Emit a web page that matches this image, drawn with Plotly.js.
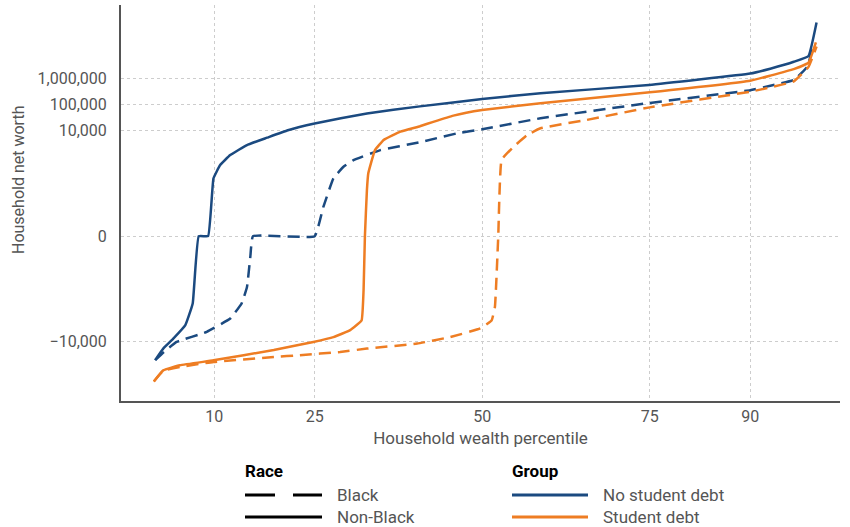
<!DOCTYPE html>
<html>
<head>
<meta charset="utf-8">
<script src="https://cdn.plot.ly/plotly-3.0.1.min.js"></script>
<style>html,body{margin:0;padding:0;background:#fff;}#chart{width:850px;height:527px;}</style>
</head>
<body>
<div id="chart"></div>
<script>
// Household wealth percentile (x) and household net worth in dollars (y)
const noDebtNonBlackPct = [1.2, 2.4, 3.9, 5.7, 6.8, 7.7, 9.1, 9.9, 10.9, 12.4, 14.9, 17.9, 21, 25, 32.8, 40.7, 50, 58.7, 74.9, 90, 93, 96.5, 98.7, 99.9];
const noDebtNonBlackVal = [-51000, -18600, -7800, -2400, -360, 0, 0, 155, 500, 1200, 2900, 5500, 10500, 19000, 46000, 85000, 162000, 270000, 550000, 1500000, 2300000, 4200000, 7000000, 130000000];

const noDebtBlackPct = [1.2, 2.5, 4.4, 8.9, 12.4, 14.1, 14.9, 15.4, 15.8, 25, 26.3, 27.8, 29.3, 30.8, 34.8, 40.5, 46.2, 50, 58.7, 75, 90, 93, 96.5, 98.5, 99.5];
const noDebtBlackVal = [-51000, -25000, -10400, -4300, -1340, -360, -84, -5, 0, 0, 12, 155, 430, 770, 1850, 3600, 8000, 11500, 30000, 115000, 350000, 520000, 850000, 2700000, 21000000];

const debtNonBlackPct = [1.0, 2.4, 4.9, 9.9, 18.9, 24.8, 27.8, 30.3, 32.0, 32.3, 32.5, 32.8, 33.0, 34.0, 35.3, 37.8, 40.7, 42.7, 45.7, 50, 58.7, 75, 90, 93, 96.5, 98.7, 99.8];
const debtNonBlackVal = [-330000, -125000, -80000, -52000, -21000, -10400, -6800, -3700, -1600, -112, 0, 55, 240, 1850, 4500, 9300, 15000, 22000, 38000, 62000, 112000, 290000, 800000, 1250000, 2200000, 3900000, 23000000];

const debtBlackPct = [1.0, 2.4, 4.9, 9.9, 18.9, 22.8, 28.8, 32.8, 40.3, 45.2, 49.7, 51.4, 51.9, 52.4, 52.9, 54.7, 56.7, 58.7, 65.6, 75, 90, 93, 96.5, 98.7, 99.9];
const debtBlackVal = [-330000, -130000, -93000, -60000, -39000, -33000, -25000, -18600, -12000, -6800, -3200, -1600, -490, 0, 800, 2500, 6900, 12500, 26000, 78000, 306000, 450000, 760000, 2700000, 16000000];

const xTickVals = [10, 25, 50, 75, 90];
const yTickVals = [-10000, 0, 10000, 100000, 1000000];
const yTickText = ["\u221210,000", "0", "10,000", "100,000", "1,000,000"];

const raceLabels = ["Black", "Non-Black"];
const groupLabels = ["No student debt", "Student debt"];

const BLUE = "#1b4a80";
const ORANGE = "#ee7d23";
const DASH = "12px,7px";

// symmetric log transform used by the chart's y axis
function symlog(v) { return Math.sign(v) * Math.log10(1 + Math.abs(v)); }

function series(px, vals, color, dash) {
  return {
    x: px, y: vals.map(symlog), type: "scatter", mode: "lines",
    line: {color: color, width: 2.5, dash: dash, shape: "spline", smoothing: 0.3},
    showlegend: false, hoverinfo: "skip"
  };
}

const traces = [
  series(noDebtBlackPct, noDebtBlackVal, BLUE, DASH),
  series(debtBlackPct, debtBlackVal, ORANGE, DASH),
  series(debtNonBlackPct, debtNonBlackVal, ORANGE, "solid"),
  series(noDebtNonBlackPct, noDebtNonBlackVal, BLUE, "solid")
];

const L = 121, T = 5, W = 719, H = 396;
const px = x => (x - L) / W;
const py = y => (T + H - y) / H;

const FONT = "Roboto, 'Noto Sans', sans-serif";
const GREY = "#555";
const ROW1 = 495, ROW2 = 517;

const shapes = [
  {type: "line", xref: "paper", yref: "paper", x0: px(245), x1: px(322), y0: py(ROW1), y1: py(ROW1), line: {color: "#000", width: 3, dash: "30px,18px"}},
  {type: "line", xref: "paper", yref: "paper", x0: px(245), x1: px(322), y0: py(ROW2), y1: py(ROW2), line: {color: "#000", width: 3}},
  {type: "line", xref: "paper", yref: "paper", x0: px(512), x1: px(588), y0: py(ROW1), y1: py(ROW1), line: {color: BLUE, width: 3}},
  {type: "line", xref: "paper", yref: "paper", x0: px(512), x1: px(588), y0: py(ROW2), y1: py(ROW2), line: {color: ORANGE, width: 3}}
];

const ann = (x, y, text, opts) => Object.assign({
  xref: "paper", yref: "paper", x: px(x), y: py(y), text: text, showarrow: false,
  xanchor: "left", yanchor: "middle", font: {family: FONT, size: 17, color: GREY}
}, opts || {});

const annotations = [
  ann(243, 471, "<b>Race</b>", {font: {family: FONT, size: 17, color: "#000"}}),
  ann(510, 471, "<b>Group</b>", {font: {family: FONT, size: 17, color: "#000"}}),
  ann(335, ROW1, raceLabels[0]),
  ann(335, ROW2, raceLabels[1]),
  ann(601, ROW1, groupLabels[0]),
  ann(601, ROW2, groupLabels[1]),
  ann(18, 180, "Household net worth", {textangle: -90, xanchor: "center", font: {family: FONT, size: 16, color: GREY}})
];

const layout = {
  width: 850, height: 527,
  margin: {l: L, r: 850 - L - W, t: T, b: 527 - T - H},
  paper_bgcolor: "#fff", plot_bgcolor: "#fff",
  showlegend: false,
  font: {family: FONT, size: 16, color: GREY},
  xaxis: {
    range: [-3.9, 103.4], tickvals: xTickVals, ticktext: xTickVals.map(String),
    showgrid: true, gridcolor: "#cdcdcd", griddash: "dot", gridwidth: 1,
    zeroline: false, showline: true, linecolor: "#555", linewidth: 2,
    ticks: "", ticklabelstandoff: 0, tickfont: {family: FONT, size: 16, color: GREY},
    title: {text: "Household wealth percentile", standoff: 7, font: {family: FONT, size: 17, color: GREY}}
  },
  yaxis: {
    range: [-6.26, 8.78], tickvals: yTickVals.map(symlog), ticktext: yTickText,
    showgrid: true, gridcolor: "#cdcdcd", griddash: "dot", gridwidth: 1,
    zeroline: false, showline: true, linecolor: "#555", linewidth: 2,
    ticks: "", ticklabelstandoff: 9, tickfont: {family: FONT, size: 16, color: GREY}
  },
  shapes: shapes,
  annotations: annotations
};

Plotly.newPlot("chart", traces, layout, {staticPlot: true, displayModeBar: false});
</script>
</body>
</html>
